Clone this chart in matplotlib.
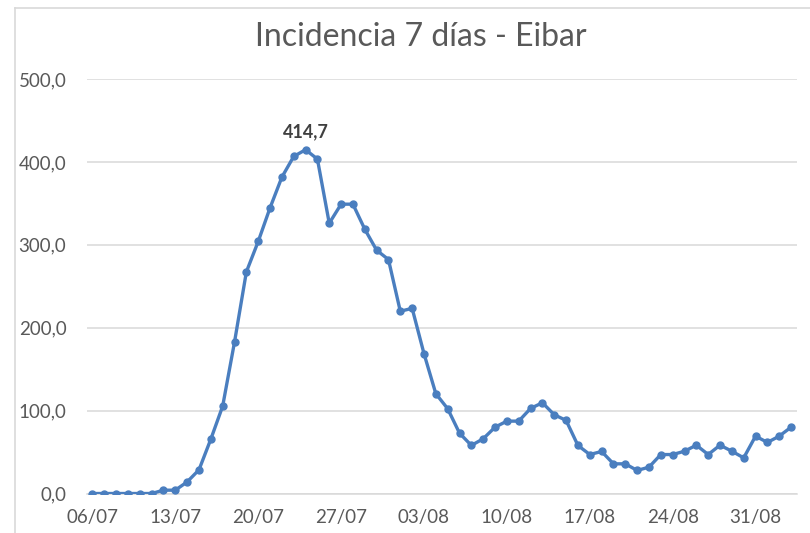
import matplotlib
matplotlib.use("Agg")
import matplotlib.pyplot as plt
from matplotlib.lines import Line2D
import numpy as np

plt.rcParams['font.family'] = ['Lato', 'DejaVu Sans']

title = "Incidencia 7 días - Eibar"
values = [0, 0, 0, 0, 0, 0, 4, 4, 14, 28.6, 65.6, 105.4, 182.7, 267.3, 304,
          344.6, 381.6, 406.6, 414.7, 403.4, 326, 349, 349, 318.8, 293.5, 282.2,
          219.8, 223.4, 168.7, 120.4, 102.3, 72.8, 58, 66, 80, 87.3, 87.3, 102.6,
          109.5, 95, 88.2, 58, 47, 50.7, 35.8, 35.8, 27.8, 31.8, 47, 47, 51,
          58.3, 47, 58.3, 51, 43, 69.2, 61.6, 69.2, 80]
tick_labels = ["06/07", "13/07", "20/07", "27/07", "03/08", "10/08", "17/08", "24/08", "31/08"]
yticks = [0, 100, 200, 300, 400, 500]
peak_label = "414,7"

W, H = 810, 533
fig = plt.figure(figsize=(W / 100, H / 100), dpi=100)
fig.patch.set_facecolor("white")

# chart border (light gray)
fig.add_artist(Line2D([15 / W, 15 / W], [0, 1 - 8 / H], transform=fig.transFigure, color="#d9d9d9", lw=1.2))
fig.add_artist(Line2D([15 / W, 1], [1 - 8 / H, 1 - 8 / H], transform=fig.transFigure, color="#d9d9d9", lw=1.2))

left, right = 86.5 / W, 797 / W
bottom, top = (H - 493.5) / H, (H - 79) / H
ax = fig.add_axes([left, bottom, right - left, top - bottom])

x = np.arange(len(values))
ax.plot(x, values, color="#4a7ebf", lw=2.4, marker="o", markersize=5, zorder=3,
        solid_joinstyle="round")

ax.set_xlim(-0.5, len(values) - 0.5)
ax.set_ylim(0, 500)
ax.set_yticks(yticks)
ax.set_yticklabels([f"{v:.1f}".replace(".", ",") for v in yticks])
ax.set_xticks(np.arange(0, len(values), 7)[:len(tick_labels)])
ax.set_xticklabels(tick_labels)

ax.grid(axis="y", color="#d9d9d9", lw=1.1)
ax.set_axisbelow(True)
for s in ["top", "right", "left"]:
    ax.spines[s].set_visible(False)
ax.spines["bottom"].set_color("#d9d9d9")
ax.spines["bottom"].set_linewidth(1.1)
ax.tick_params(axis="both", length=0, labelsize=13.5, labelcolor="#595959")
ax.tick_params(axis="y", pad=14.5)
ax.tick_params(axis="x", pad=11)

ipk = int(np.argmax(values))
ax.annotate(peak_label, (x[ipk], values[ipk]), xytext=(0, 7), textcoords="offset points",
            ha="center", va="bottom", fontsize=13, fontweight="bold", color="#404040")

fig.text(421 / W, 1 - 37 / H, title, ha="center", va="center", fontsize=23, color="#595959")

fig.savefig("out.png", dpi=100, facecolor="white")
